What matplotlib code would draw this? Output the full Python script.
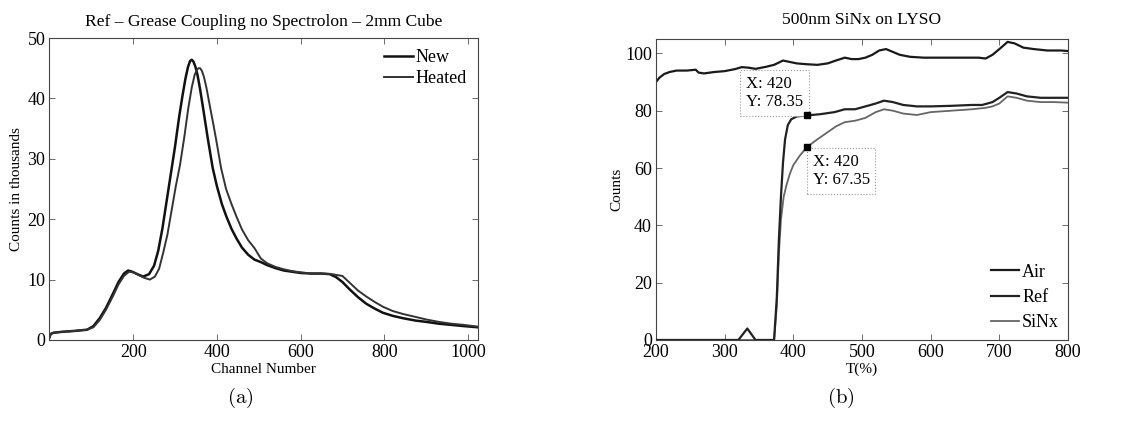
import matplotlib
matplotlib.use("Agg")
import matplotlib.pyplot as plt

plt.rcParams['font.family'] = ['Liberation Serif', 'DejaVu Serif']
plt.rcParams['mathtext.fontset'] = 'cm'

# ---------------- Panel (a) data ----------------
new_x = [0, 3, 10, 30, 60, 90, 105, 120, 135, 152, 165, 178, 188, 198, 210, 224, 238, 250,
         260, 270, 280, 290, 300, 310, 318, 325, 331, 336, 340, 344, 349, 354, 360, 368, 378,
         390, 400, 412, 423, 435, 447, 460, 475, 490, 505, 520, 540, 560, 580, 600, 625, 650,
         670, 685, 700, 717, 737, 757, 777, 797, 820, 845, 876, 900, 930, 960, 990, 1024]
new_y = [0.5, 1.0, 1.2, 1.35, 1.5, 1.7, 2.3, 3.6, 5.3, 7.7, 9.6, 11.0, 11.5, 11.3, 10.9, 10.5,
         10.9, 12.3, 14.8, 18.5, 23, 27.5, 32, 37, 40.5, 43.3, 45.2, 46.2, 46.4, 46.1, 45.2,
         43.8, 41.5, 38, 33.5, 28.5, 25.5, 22.5, 20.4, 18.4, 16.8, 15.3, 14.1, 13.3, 12.9,
         12.4, 11.9, 11.5, 11.3, 11.1, 11.0, 11.0, 10.9, 10.4, 9.6, 8.4, 7.1, 6.0, 5.2, 4.5,
         4.0, 3.6, 3.2, 3.0, 2.7, 2.5, 2.3, 2.1]

heated_x = [0, 3, 10, 30, 60, 90, 105, 120, 135, 152, 165, 178, 190, 200, 212, 226, 240, 252,
            262, 272, 282, 292, 302, 312, 322, 332, 340, 347, 352, 356, 360, 364, 369, 375,
            382, 390, 398, 410, 422, 435, 447, 460, 475, 490, 505, 520, 540, 560, 580, 600,
            625, 650, 675, 700, 717, 737, 757, 777, 797, 820, 845, 876, 900, 930, 960, 990, 1024]
heated_y = [0.3, 1.0, 1.2, 1.35, 1.5, 1.7, 2.1, 3.3, 5.0, 7.3, 9.2, 10.6, 11.3, 11.2, 10.8,
            10.3, 10.0, 10.5, 11.8, 14.5, 17.5, 21.5, 25.5, 29, 33.5, 38.5, 41.8, 43.9, 44.7,
            45.0, 45.0, 44.6, 43.6, 41.8, 39.2, 36.3, 33.3, 28.5, 25, 22.5, 20.4, 18.3, 16.5,
            15.2, 13.5, 12.7, 12.1, 11.7, 11.4, 11.2, 11.0, 11.0, 10.9, 10.6, 9.5, 8.2, 7.2,
            6.3, 5.5, 4.8, 4.3, 3.8, 3.4, 3.0, 2.7, 2.5, 2.2]

# ---------------- Panel (b) data ----------------
air_t = [200, 205, 212, 220, 230, 245, 258, 262, 270, 285, 300, 315, 325, 335, 345, 360, 372,
         385, 395, 405, 420, 435, 450, 462, 475, 485, 495, 505, 515, 525, 535, 545, 555, 570,
         590, 610, 630, 650, 670, 680, 690, 700, 712, 722, 735, 750, 770, 790, 800]
air_v = [90, 91.5, 92.8, 93.5, 94, 94, 94.3, 93.3, 93, 93.5, 93.8, 94.5, 95.2, 95, 94.6, 95.3,
         96, 97.5, 97, 96.5, 96.2, 96, 96.5, 97.5, 98.5, 98, 98, 98.5, 99.5, 101, 101.5, 100.5,
         99.5, 98.8, 98.5, 98.5, 98.5, 98.5, 98.5, 98.2, 99.5, 101.5, 104, 103.5, 102, 101.5,
         101, 101, 100.8]

ref_t = [200, 320, 333, 345, 372, 376, 379, 382, 385, 388, 392, 397, 405, 420, 440, 460, 475,
         490, 505, 520, 532, 545, 560, 580, 600, 630, 660, 675, 690, 700, 712, 725, 740, 760,
         780, 800]
ref_v = [0, 0, 4, 0, 0, 15, 35, 50, 62, 70, 75, 77, 78, 78.35, 78.8, 79.5, 80.5, 80.5, 81.5,
         82.5, 83.5, 83, 82, 81.5, 81.5, 81.7, 82, 82, 83, 84.5, 86.5, 86, 85, 84.5, 84.5, 84.5]

sinx_t = [200, 372, 376, 379, 382, 386, 390, 395, 400, 410, 420, 435, 450, 462, 475, 490, 505,
          520, 532, 545, 560, 580, 600, 630, 660, 680, 690, 700, 712, 725, 740, 760, 780, 800]
sinx_v = [0, 0, 12, 30, 42, 50, 54, 58, 61, 64.5, 67.35, 70, 72.5, 74.5, 76, 76.5, 77.5, 79.5,
          80.5, 80, 79, 78.5, 79.5, 80, 80.5, 81, 81.5, 82.5, 85, 84.5, 83.5, 83, 83, 82.8]

tip_x = [420, 420]
tip_y = [78.35, 67.35]

fig = plt.figure(figsize=(11.29, 4.29), dpi=100)
ax1 = fig.add_axes([0.0438, 0.2075, 0.3796, 0.7039])
ax2 = fig.add_axes([0.581, 0.2075, 0.365, 0.7015])

for ax in (ax1, ax2):
    ax.tick_params(direction='in', top=True, right=True, labelsize=13, length=4,
                   width=0.6, color='#555555', pad=3)
    for s in ax.spines.values():
        s.set_linewidth(0.8)
        s.set_color('#444444')

# Panel (a)
ax1.plot(new_x, new_y, color='#111111', lw=1.8, label='New')
ax1.plot(heated_x, heated_y, color='#333333', lw=1.4, label='Heated')
ax1.set_xlim(0, 1024)
ax1.set_ylim(0, 50)
ax1.set_xticks([200, 400, 600, 800, 1000])
ax1.set_yticks([0, 10, 20, 30, 40, 50])
ax1.set_title('Ref \u2013 Grease Coupling no Spectrolon \u2013 2mm Cube', fontsize=12.6, pad=9)
ax1.set_xlabel('Channel Number', fontsize=11, labelpad=1)
ax1.set_ylabel('Counts in thousands', fontsize=11, labelpad=3)
ax1.legend(loc='upper right', frameon=False, fontsize=13, handlelength=1.6,
           handletextpad=0.15, borderaxespad=0.2, labelspacing=0.25)

# Panel (b)
ax2.plot(air_t, air_v, color='#1a1a1a', lw=1.6, label='Air')
ax2.plot(sinx_t, sinx_v, color='#666666', lw=1.3, label='SiNx', zorder=2)
ax2.plot(ref_t, ref_v, color='#222222', lw=1.6, label='Ref', zorder=3)
ax2.plot(tip_x, tip_y, ls='none', marker='s', ms=4, color='black', zorder=7)
ax2.set_xlim(200, 800)
ax2.set_ylim(0, 105)
ax2.set_xticks([200, 300, 400, 500, 600, 700, 800])
ax2.set_yticks([0, 20, 40, 60, 80, 100])
ax2.set_title('500nm SiNx on LYSO', fontsize=12.6, pad=11)
ax2.set_xlabel('T(%)', fontsize=11, labelpad=1)
ax2.set_ylabel('Counts', fontsize=11, labelpad=1)
h, l = ax2.get_legend_handles_labels()
order = [l.index('Air'), l.index('Ref'), l.index('SiNx')]
ax2.legend([h[i] for i in order], [l[i] for i in order], loc='lower right', frameon=False,
           fontsize=13, handlelength=1.6, handletextpad=0.15, borderaxespad=0.1,
           labelspacing=0.45)

box = dict(boxstyle='square,pad=0.35', fc='white', ec='#999999', ls=':', lw=0.8)
ax2.text(331, 92.0, 'X: 420\nY: 78.35', fontsize=12, va='top', ha='left', bbox=box,
         linespacing=1.15, zorder=6)
ax2.text(428, 64.8, 'X: 420\nY: 67.35', fontsize=12, va='top', ha='left', bbox=box,
         linespacing=1.15, zorder=6)

fig.text(0.213, 0.06, r'$\mathrm{(a)}$', fontsize=15, ha='center')
fig.text(0.745, 0.06, r'$\mathrm{(b)}$', fontsize=15, ha='center')

fig.savefig('out.png', dpi=100)
